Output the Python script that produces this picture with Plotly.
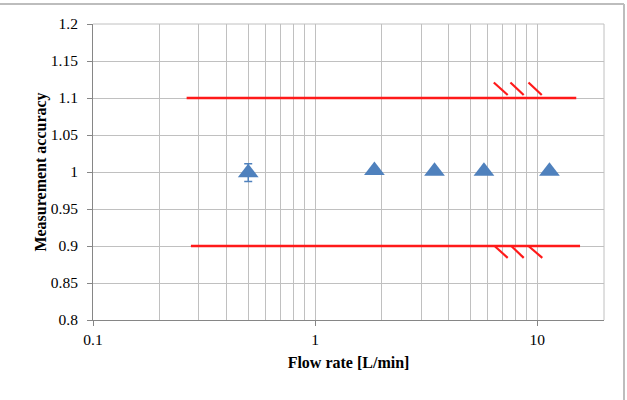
import plotly.graph_objects as go

# ---- data ----
flow_rate = [0.5, 1.85, 3.45, 5.76, 11.36]
accuracy = [0.999, 1.002, 1.001, 1.001, 1.001]
accuracy_err = [0.012, 0.0, 0.0, 0.0, 0.0]

upper_x = [0.264, 15.0]
upper_y = [1.1, 1.1]
lower_x = [0.276, 15.6]
lower_y = [0.9, 0.9]

# break marks (start/end x, start/end y)
upper_mark_x0 = [6.38, 7.58, 9.14]
upper_mark_x1 = [7.37, 8.70, 10.49]
upper_mark_y0 = 1.121
upper_mark_y1 = 1.104
lower_mark_x0 = [6.43, 7.65, 9.14]
lower_mark_x1 = [7.37, 8.70, 10.55]
lower_mark_y0 = 0.900
lower_mark_y1 = 0.884

major_ticks = [0.1, 1, 10]
major_labels = ["0.1", "1", "10"]
minor_ticks = [0.2, 0.3, 0.4, 0.5, 0.6, 0.7, 0.8, 0.9,
               2, 3, 4, 5, 6, 7, 8, 9, 20]
y_ticks = [0.8, 0.85, 0.9, 0.95, 1, 1.05, 1.1, 1.15, 1.2]
y_labels = ["0.8", "0.85", "0.9", "0.95", "1", "1.05", "1.1", "1.15", "1.2"]

RED = "#FF1A1A"
BLUE = "#4F81BD"
GRID = "#C0C0C0"
AXIS = "#868686"
FONT = "Liberation Serif"


def seg(x0, x1, y0, y1):
    xs, ys = [], []
    for a, b in zip(x0, x1):
        xs += [a, b, None]
        ys += [y0, y1, None]
    return xs, ys


fig = go.Figure()
fig.add_trace(go.Scatter(x=upper_x, y=upper_y, mode="lines",
                         line=dict(color=RED, width=2.7), showlegend=False))
fig.add_trace(go.Scatter(x=lower_x, y=lower_y, mode="lines",
                         line=dict(color=RED, width=2.7), showlegend=False))
ux, uy = seg(upper_mark_x0, upper_mark_x1, upper_mark_y0, upper_mark_y1)
fig.add_trace(go.Scatter(x=ux, y=uy, mode="lines",
                         line=dict(color=RED, width=2.2), showlegend=False))
lx, ly = seg(lower_mark_x0, lower_mark_x1, lower_mark_y0, lower_mark_y1)
fig.add_trace(go.Scatter(x=lx, y=ly, mode="lines",
                         line=dict(color=RED, width=2.2), showlegend=False))
fig.add_trace(go.Scatter(
    x=flow_rate, y=accuracy, mode="markers",
    marker=dict(symbol="triangle-up", size=18, color=BLUE),
    error_y=dict(type="data", array=accuracy_err, visible=True,
                 color=BLUE, thickness=1.5, width=4),
    showlegend=False))

fig.update_layout(
    width=627, height=400,
    margin=dict(l=93, r=23, t=24, b=80),
    paper_bgcolor="white", plot_bgcolor="white",
    font=dict(family=FONT, size=15.5, color="black"),
    xaxis=dict(
        type="log", range=[-1, 1.30103],
        tickmode="array", tickvals=major_ticks, ticktext=major_labels,
        ticks="outside", ticklen=5, tickcolor=AXIS,
        showgrid=True, gridcolor=GRID, gridwidth=1,
        showline=True, linecolor=AXIS, linewidth=1,
        minor=dict(tickmode="array", tickvals=minor_ticks, showgrid=True,
                   gridcolor=GRID, gridwidth=1, ticks=""),
        title=dict(text="<b>Flow rate [L/min]</b>", font=dict(size=16), standoff=10),
        zeroline=False,
    ),
    yaxis=dict(
        range=[0.8, 1.2],
        tickmode="array", tickvals=y_ticks, ticktext=y_labels,
        ticks="outside", ticklen=5, tickcolor=AXIS,
        ticklabelstandoff=6,
        showgrid=True, gridcolor=GRID, gridwidth=1,
        showline=True, linecolor=AXIS, linewidth=1,
        title=dict(text="<b>Measurement accuracy</b>", font=dict(size=16), standoff=0),
        zeroline=False,
    ),
    shapes=[
        dict(type="line", xref="paper", yref="paper", x0=0, x1=1, y0=1, y1=1,
             line=dict(color=GRID, width=1)),
        dict(type="line", xref="paper", yref="paper", x0=1, x1=1, y0=0, y1=1,
             line=dict(color=GRID, width=1)),
    ],
)

# outer chart border (top and right edges visible)
fig.add_shape(type="line", xref="paper", yref="paper",
              x0=-93 / 511, x1=(624 - 93) / 511, y0=(400 - 4 - 80) / 296, y1=(400 - 4 - 80) / 296,
              line=dict(color="#BDBDBD", width=2))
fig.add_shape(type="line", xref="paper", yref="paper",
              x0=(624 - 93) / 511, x1=(624 - 93) / 511, y0=-80 / 296, y1=(400 - 4 - 80) / 296,
              line=dict(color="#BDBDBD", width=2))

fig.write_html("out.html")
